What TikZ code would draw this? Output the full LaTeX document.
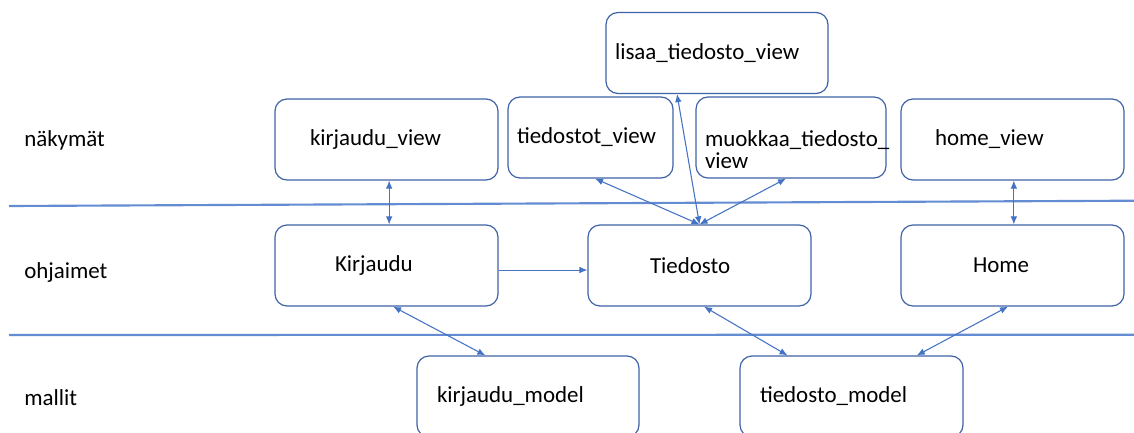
\documentclass[tikz,border=0pt]{standalone}
\usepackage{fontspec}
\setmainfont{Carlito}
\usepackage{tikz}
\usetikzlibrary{arrows.meta,positioning}
\definecolor{ReunaSini}{RGB}{62,98,165}
\definecolor{NuoliSini}{RGB}{68,114,196}
\definecolor{TasoSini}{RGB}{100,140,210}

\begin{document}
\begin{tikzpicture}[x=0.75pt,y=-0.75pt,>={Latex[length=6pt,width=5pt]},
  font=\fontsize{17.2pt}{17pt}\selectfont,
  laatikko/.style={draw=ReunaSini,line width=0.9pt,rounded corners=9pt,
    minimum height=60.75pt,align=left},
  koko/.style 2 args={minimum width={#1*0.75pt},inner xsep={#2*0.75pt},
    text width={(#1-2*#2)*0.75pt}},
  yhteys/.style={draw=NuoliSini,line width=0.8pt},
  kerros/.style={draw=TasoSini,line width=1.6pt},
  tasoteksti/.style={anchor=base west,inner sep=0pt}]
  \useasboundingbox (0,0) rectangle (1134,432);
  % tasojen rajat
  \coordinate (r1a) at (9,206);
  \coordinate (r1b) at (1134,200.7);
  \coordinate (r2a) at (9,335);
  \coordinate (r2b) at (1134,334.7);
  \draw[kerros] (r1a)--(r1b);
  \draw[kerros] (r2a)--(r2b);
  \foreach \t/\y/\i in {näkymät/146/1,ohjaimet/278/2,mallit/405/3}
    \node[tasoteksti] (taso\i) at (24,\y) {\t};
  % näkymät
  \node[laatikko,koko={223}{35}] (kv) at (386.5,139.5) {kirjaudu\_view};
  \node[laatikko,koko={165}{9}] (tv) at (590.5,137.5) {tiedostot\_view};
  \node[laatikko,koko={222}{9}] (lv) at (717,53) {lisaa\_tiedosto\_view};
  \node[laatikko,koko={190}{9},font=\fontsize{17.2pt}{17pt}\selectfont,
    text height=16pt,text depth=3pt] (mv) at (791,137.5) {muokkaa\_tiedosto\_\\view};
  \node[laatikko,koko={223}{34}] (hv) at (1012.5,139.5) {home\_view};
  % ohjaimet
  \node[laatikko,koko={223}{60}] (kc) at (386.5,265.5) {Kirjaudu};
  \node[laatikko,koko={223}{62}] (tc) at (699.5,265.5) {Tiedosto};
  \node[laatikko,koko={223}{72}] (hc) at (1012.5,265.5) {Home};
  % mallit
  \node[laatikko,koko={222}{20}] (km) at (528,396.5) {kirjaudu\_model};
  \node[laatikko,koko={223}{20}] (tm) at (851.5,396.5) {tiedosto\_model};
  % yhteydet
  \draw[yhteys,<->] ([xshift=2pt]kv.south)--([xshift=2pt]kc.north);
  \draw[yhteys,->] ([yshift=-3.4pt]kc.east)--([yshift=-3.4pt]tc.west);
  \draw[yhteys,<->] ([xshift=3.4pt]tv.south)--(tc.north);
  \draw[yhteys,<->] ([xshift=-30pt]lv.south)--(tc.north);
  \draw[yhteys,<->] ([xshift=-3.8pt]mv.south)--(tc.north);
  \draw[yhteys,<->] ([xshift=1pt]hv.south)--([xshift=1pt]hc.north);
  \draw[yhteys,<->] ([xshift=5pt]kc.south)--([xshift=-32pt]km.north);
  \draw[yhteys,<->] ([xshift=3.4pt]tc.south)--([xshift=-48pt]tm.north);
  \draw[yhteys,<->] ([xshift=-3.4pt]hc.south)--([xshift=49pt]tm.north);
\end{tikzpicture}
\end{document}
